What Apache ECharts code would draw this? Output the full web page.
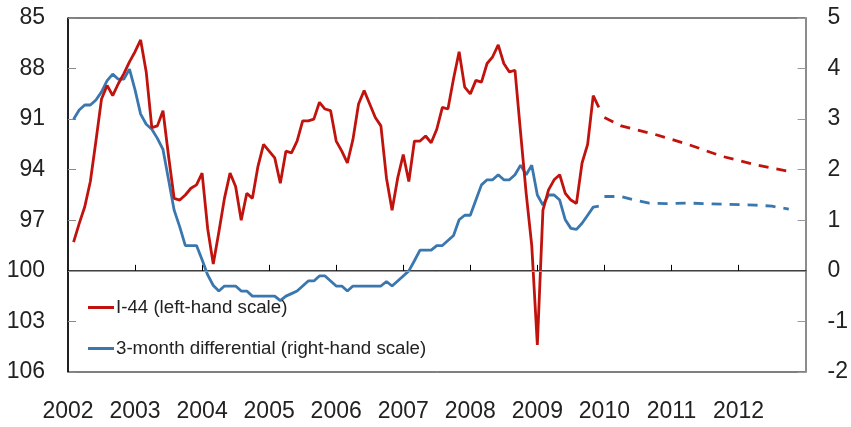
<!DOCTYPE html>
<html>
<head>
<meta charset="utf-8">
<script src="https://cdn.jsdelivr.net/npm/echarts@6/dist/echarts.min.js"></script>
<style>
  html, body { margin: 0; padding: 0; background: #fff; }
  #chart { width: 851px; height: 427px; }
</style>
</head>
<body>
<div id="chart"></div>
<script>
// monthly categories Jan 2002 .. Jan 2013
let months = [];
for (let y = 2002; y <= 2012; y++) {
  for (let m = 1; m <= 12; m++) months.push(y + '-' + (m < 10 ? '0' + m : m));
}
months.push('2013-01');

// I-44, monthly from 2002-02 to 2009-12 (left-hand scale, inverted)
let i44Start = '2002-02';
let i44 = [
  98.3, 97.2, 96.2, 94.7, 92.3, 89.8, 89.0, 89.6, 88.9, 88.3, 87.6,
  87.0, 86.3, 88.2, 91.5, 91.4, 90.5, 93.2, 95.7, 95.8, 95.5, 95.1, 94.9,
  94.2, 97.5, 99.6, 97.7, 95.7, 94.2, 95.0, 97.0, 95.4, 95.7, 93.8, 92.5,
  92.9, 93.3, 94.8, 92.9, 93.0, 92.3, 91.1, 91.1, 91.0, 90.0, 90.4, 90.5,
  92.3, 92.9, 93.6, 92.2, 90.1, 89.3, 90.1, 90.9, 91.4, 94.5, 96.4, 94.5,
  93.1, 94.7, 92.3, 92.3, 92.0, 92.4, 91.6, 90.3, 90.4, 88.6, 87.0, 89.1,
  89.5, 88.7, 88.8, 87.7, 87.3, 86.6, 87.7, 88.2, 88.1, 91.8, 95.4, 98.5,
  104.4, 96.4, 95.2, 94.6, 94.3, 95.4, 95.8, 96.0, 93.6, 92.5, 89.6, 90.3
];

// 3-month differential, monthly from 2002-02 to 2009-12 (right-hand scale)
let diff3m = [
  3.00, 3.18, 3.28, 3.28, 3.38, 3.54, 3.76, 3.89, 3.79, 3.79, 3.99,
  3.58, 3.10, 2.90, 2.80, 2.62, 2.40, 1.80, 1.20, 0.87, 0.50, 0.50, 0.50,
  0.22, -0.08, -0.29, -0.40, -0.30, -0.30, -0.30, -0.40, -0.40, -0.50, -0.50, -0.50,
  -0.50, -0.50, -0.59, -0.50, -0.45, -0.40, -0.30, -0.20, -0.20, -0.10, -0.10, -0.20,
  -0.30, -0.30, -0.40, -0.30, -0.30, -0.30, -0.30, -0.30, -0.30, -0.21, -0.30, -0.20,
  -0.10, 0.00, 0.20, 0.41, 0.41, 0.41, 0.50, 0.50, 0.60, 0.70, 1.01, 1.10,
  1.10, 1.40, 1.70, 1.80, 1.80, 1.90, 1.80, 1.80, 1.90, 2.09, 1.90, 2.09,
  1.50, 1.30, 1.50, 1.50, 1.40, 1.01, 0.84, 0.82, 0.94, 1.10, 1.26, 1.28
];

// projections (dashed)
let i44FcMonths = ['2010-01', '2010-04', '2010-10', '2011-04', '2011-10', '2012-04', '2012-10'];
let i44Fc = [90.9, 91.4, 91.9, 92.5, 93.2, 93.7, 94.1];
let diffFcMonths = ['2010-01', '2010-04', '2010-06', '2010-09', '2010-12', '2011-04', '2011-10', '2012-04', '2012-07', '2012-10'];
let diffFc = [1.47, 1.47, 1.41, 1.34, 1.33, 1.34, 1.32, 1.30, 1.28, 1.22];

let leftTicks = [85, 106, 3];
let rightTicks = [-2, 5, 1];

let red = '#c0130d';
let blue = '#3a77ae';
let font = 'Liberation Sans';

function place(startMonth, vals) {
  let s = months.indexOf(startMonth);
  return vals.map(function (v, i) { return [months[s + i], v]; });
}
function pairs(ms, vals) {
  return ms.map(function (m, i) { return [m, vals[i]]; });
}
function yearTick(idx) { return idx % 12 === 0 && idx > 0 && idx < 132; }

let chart = echarts.init(document.getElementById('chart'));
chart.setOption({
  animation: false,
  backgroundColor: '#fff',
  grid: { left: 68, right: 43, top: 18, bottom: 55, show: true, borderColor: '#000', borderWidth: 1, backgroundColor: 'transparent' },
  legend: {
    orient: 'vertical',
    left: 88,
    top: 298,
    padding: 0,
    itemWidth: 26,
    itemHeight: 3,
    itemGap: 22,
    icon: 'rect',
    data: ['I-44 (left-hand scale)', '3-month differential (right-hand scale)'],
    textStyle: { fontFamily: font, fontSize: 18.7, color: '#222', padding: [0, 0, 0, -3] }
  },
  xAxis: {
    type: 'category',
    data: months,
    boundaryGap: false,
    axisLine: { lineStyle: { color: '#000', width: 1.5 } },
    axisTick: { inside: true, length: 6, interval: function (i) { return yearTick(i); }, lineStyle: { color: '#000' } },
    axisLabel: {
      interval: function (i) { return i % 12 === 0 && i < 132; },
      formatter: function (v) { return v.slice(0, 4); },
      fontFamily: font, fontSize: 23, color: '#222', margin: 28
    },
    splitLine: { show: false }
  },
  yAxis: [{
    type: 'value',
    inverse: true,
    min: leftTicks[0], max: leftTicks[1], interval: leftTicks[2],
    axisLine: { show: true, lineStyle: { color: '#000', width: 1.5 } },
    axisTick: { show: true, inside: true, length: 8, lineStyle: { color: '#888' } },
    axisLabel: { fontFamily: font, fontSize: 23, color: '#222', margin: 23 },
    splitLine: { show: false }
  }, {
    type: 'value',
    min: rightTicks[0], max: rightTicks[1], interval: rightTicks[2],
    position: 'right',
    axisLine: { show: true, lineStyle: { color: '#8c8c8c', width: 2 } },
    axisTick: { show: true, inside: true, length: 8, lineStyle: { color: '#999' } },
    axisLabel: { fontFamily: font, fontSize: 23, color: '#222', margin: 22 },
    splitLine: { show: false }
  }],
  series: [{
    name: 'I-44 (left-hand scale)',
    type: 'line',
    yAxisIndex: 0,
    data: place(i44Start, i44),
    showSymbol: false,
    lineStyle: { color: red, width: 2.8 },
    itemStyle: { color: red },
    z: 3
  }, {
    name: 'I-44 projection',
    type: 'line',
    yAxisIndex: 0,
    data: pairs(i44FcMonths, i44Fc),
    showSymbol: false,
    lineStyle: { color: red, width: 2.8, type: [10, 8] },
    itemStyle: { color: red },
    z: 3
  }, {
    name: '3-month differential (right-hand scale)',
    type: 'line',
    yAxisIndex: 1,
    data: place(i44Start, diff3m),
    showSymbol: false,
    lineStyle: { color: blue, width: 2.8 },
    itemStyle: { color: blue },
    z: 2,
    markLine: {
      silent: true,
      symbol: 'none',
      label: { show: false },
      lineStyle: { color: '#999', width: 1, type: 'solid' },
      data: [{ yAxis: 0 }]
    }
  }, {
    name: '3-month differential projection',
    type: 'line',
    yAxisIndex: 1,
    data: pairs(diffFcMonths, diffFc),
    showSymbol: false,
    lineStyle: { color: blue, width: 2.8, type: [10, 8] },
    itemStyle: { color: blue },
    z: 2
  }]
});
</script>
</body>
</html>
